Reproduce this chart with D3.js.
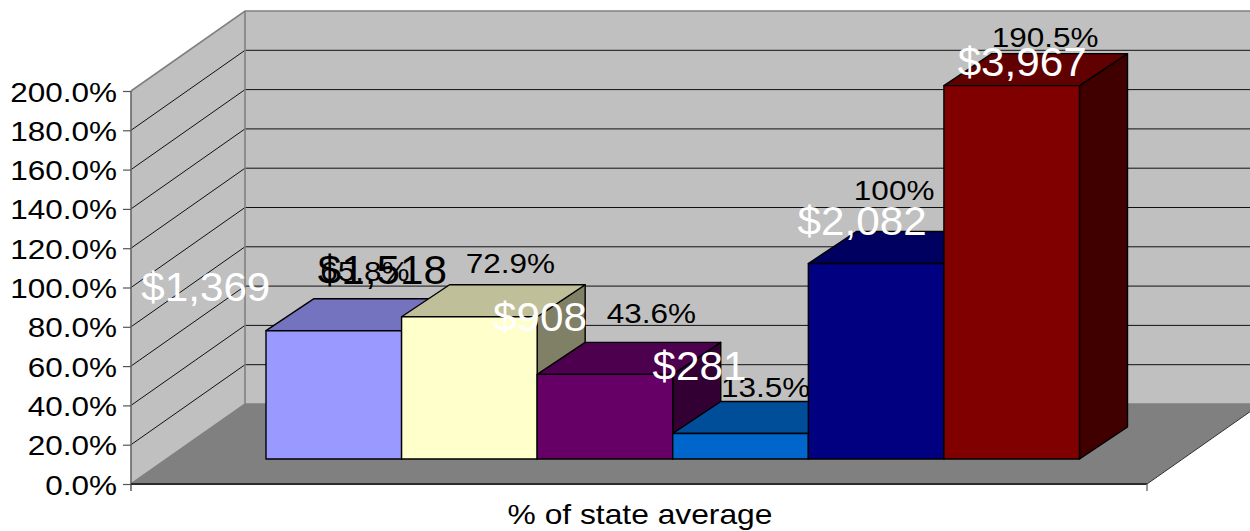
<!DOCTYPE html>
<html><head><meta charset="utf-8">
<script src="https://cdnjs.cloudflare.com/ajax/libs/d3/7.8.5/d3.min.js"></script>
<style>html,body{margin:0;padding:0;background:#fff}svg{display:block}text{font-family:"Liberation Sans",Arial,sans-serif}</style>
</head><body><svg id="c" width="1250" height="531"></svg>
<script>
const percentValues = [65.8, 72.9, 43.6, 13.5, 100, 190.5];
const percentLabels = ["65.8%", "72.9%", "43.6%", "13.5%", "100%", "190.5%"];
const dollarLabels = ["$1,369", "$1,518", "$908", "$281", "$2,082", "$3,967"];
const barColors = ["#9999ff", "#ffffcc", "#660066", "#0066cc", "#000080", "#800000"];
const dollarColors = ["#fff", "#000", "#fff", "#fff", "#fff", "#fff"];
const yTicks = [0, 20, 40, 60, 80, 100, 120, 140, 160, 180, 200];
const axisTitle = "% of state average";

// label anchors relative to each bar (front-face centre x, front-face top y)
const pctOffset = [[31, -50], [41, -44], [46.5, -51], [25, -36.5], [18, -63.5], [33.5, -39]];
const usdOffset = [[-128, -30], [-87, -33], [-65, -43], [-41, -53], [-14, -28.5], [10.5, -10]];

const W = 1250, H = 531;
const svg = d3.select("#c");
const y = d3.scaleLinear().domain([0, 200]).range([484, 91]);
const wall = {x0: 131, x1: 1147, dx: 114, dy: -80};
const xBar = d3.scaleBand().domain(d3.range(percentValues.length)).range([266, 1079.5]).padding(0);
const barLift = 24, barDx = 48, barDy = -32;
const poly = pts => pts.map(p => p.join(",")).join(" ");

// walls and floor
svg.append("polygon").attr("fill", "#c0c0c0").attr("stroke", "none")
  .attr("points", poly([[wall.x0, y(0)], [wall.x0, y(200)], [wall.x0 + wall.dx, y(200) + wall.dy], [W, y(200) + wall.dy], [W, y(0) + wall.dy], [wall.x0 + wall.dx, y(0) + wall.dy]]));
svg.append("polygon").attr("fill", "#808080")
  .attr("points", poly([[wall.x0, y(0)], [wall.x0 + wall.dx, y(0) + wall.dy], [wall.x1 + wall.dx, y(0) + wall.dy], [wall.x1, y(0)]]));

// gridlines
svg.append("g").selectAll("polyline").data(yTicks.filter(t => t > 0 && t < 200)).join("polyline")
  .attr("fill", "none").attr("stroke", "#111").attr("stroke-width", 1)
  .attr("points", d => poly([[wall.x0, y(d)], [wall.x0 + wall.dx, y(d) + wall.dy], [W, y(d) + wall.dy]]));

// wall edges
const edges = [
  [[wall.x0, y(200)], [wall.x0 + wall.dx, y(200) + wall.dy], [W, y(200) + wall.dy]],
  [[wall.x0 + wall.dx, y(200) + wall.dy], [wall.x0 + wall.dx, y(0) + wall.dy]],
  [[wall.x0, y(0)], [wall.x0 + wall.dx, y(0) + wall.dy], [W, y(0) + wall.dy]]
];
svg.append("g").selectAll("polyline").data(edges).join("polyline")
  .attr("fill", "none").attr("stroke", "#808080").attr("stroke-width", 1.6).attr("points", d => poly(d));
svg.append("line").attr("x1", wall.x1).attr("y1", y(0)).attr("x2", wall.x1 + wall.dx).attr("y2", y(0) + wall.dy).attr("stroke", "#333").attr("stroke-width", 1);

// axes
const axisY = d3.axisLeft(y).tickValues(yTicks).tickSize(8).tickPadding(0).tickFormat(d => d.toFixed(1) + "%");
const gy = svg.append("g").attr("transform", `translate(${wall.x0},0)`).call(axisY);
gy.select(".domain").attr("stroke", "#666").attr("stroke-width", 1.6).attr("d", `M0,${y(200)}V${y(0) + 7}`);
gy.selectAll(".tick line").attr("stroke", "#555").attr("stroke-width", 1.2);
gy.selectAll(".tick text").attr("font-size", 28).attr("fill", "#000").attr("dy", "0.36em").attr("x", 0)
  .attr("font-family", '"Liberation Sans",Arial,sans-serif')
  .attr("text-anchor", "end").attr("transform", "translate(-14,0) scale(1.125,1)");
svg.append("line").attr("x1", wall.x0).attr("x2", wall.x1).attr("y1", y(0)).attr("y2", y(0)).attr("stroke", "#2b2b2b").attr("stroke-width", 2);
svg.append("line").attr("x1", wall.x1).attr("x2", wall.x1).attr("y1", y(0)).attr("y2", y(0) + 7).attr("stroke", "#777").attr("stroke-width", 1.5);

// 3D bars
const shade = (c, k) => { const r = d3.rgb(c); return d3.rgb(r.r * k, r.g * k, r.b * k).formatHex(); };
const barBase = y(0) - 25;
const barTop = v => y(v) - barLift;
const bars = svg.append("g").attr("stroke", "#000").attr("stroke-width", 1.4).attr("stroke-linejoin", "round");
percentValues.forEach((v, i) => {
  const x0 = xBar(i), x1 = x0 + xBar.bandwidth(), t = barTop(v);
  bars.append("polygon").attr("fill", shade(barColors[i], 0.5))
    .attr("points", poly([[x1, t], [x1 + barDx, t + barDy], [x1 + barDx, barBase + barDy], [x1, barBase]]));
  bars.append("polygon").attr("fill", shade(barColors[i], 0.75))
    .attr("points", poly([[x0, t], [x0 + barDx, t + barDy], [x1 + barDx, t + barDy], [x1, t]]));
  bars.append("rect").attr("fill", barColors[i]).attr("x", x0).attr("y", t).attr("width", x1 - x0).attr("height", barBase - t);
});

// labels
function label(g, txt, i, off, size, sx, fill) {
  const cx = xBar(i) + xBar.bandwidth() / 2 + off[0], by = barTop(percentValues[i]) + off[1];
  g.append("text").text(txt).attr("text-anchor", "middle").attr("font-size", size).attr("fill", fill)
    .attr("transform", `translate(${cx},${by}) scale(${sx},1)`);
}
const lab = svg.append("g");
percentLabels.forEach((t, i) => label(lab, t, i, pctOffset[i], 28, 1.125, "#000"));
dollarLabels.forEach((t, i) => label(lab, t, i, usdOffset[i], 41, 1.03, dollarColors[i]));

svg.append("text").text(axisTitle).attr("text-anchor", "middle").attr("font-size", 28).attr("fill", "#000")
  .attr("transform", "translate(640,524) scale(1.135,1)");
</script></body></html>
